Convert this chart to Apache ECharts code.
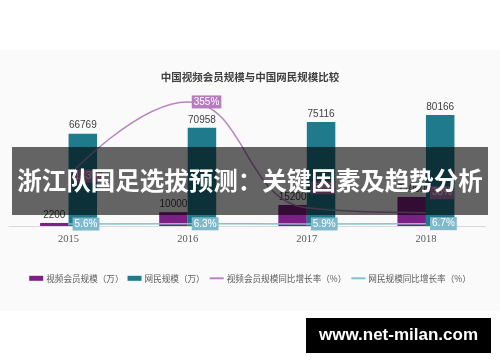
<!DOCTYPE html>
<html><head><meta charset="utf-8">
<script src="https://cdn.jsdelivr.net/npm/echarts@6/dist/echarts.min.js"></script>
<style>html,body{margin:0;padding:0;background:#fff}#c{width:500px;height:362px}</style>
</head><body><div id="c"></div>
<script>
const years = ['2015', '2016', '2017', '2018'];
const memberScale = [2200, 10000, 15200, 21000];
const netScale = [66769, 70958, 75116, 80166];
const memberGrowth = [143, 355, 52, 38];
const netGrowth = [5.6, 6.3, 5.9, 6.7];
const seriesNames = ['视频会员规模（万）', '网民规模（万）', '视频会员规模同比增长率（%）', '网民规模同比增长率（%）'];
const chartTitle = '中国视频会员规模与中国网民规模比较';
const bannerText = '浙江队国足选拔预测：关键因素及趋势分析';
const siteText = 'www.net-milan.com';

const FONT = '"Noto Sans CJK SC", "Liberation Sans", sans-serif';
const memberGrowthData = memberGrowth.map((v, i) => i >= 2 ? { value: v, label: { offset: [0, -20] } } : v);
const chart = echarts.init(document.getElementById('c'));
chart.setOption({
  animation: false,
  textStyle: { fontFamily: FONT },
  title: {
    text: chartTitle, left: 'center', top: 67,
    textStyle: { fontSize: 10.5, fontWeight: 'bold', color: '#404040', fontFamily: FONT }
  },
  legend: {
    data: [
      { name: seriesNames[0], icon: 'rect' },
      { name: seriesNames[1], icon: 'rect' },
      { name: seriesNames[2], itemStyle: { opacity: 0 } },
      { name: seriesNames[3], itemStyle: { opacity: 0 } }
    ],
    left: 'center', top: 269,
    itemWidth: 14, itemHeight: 5, itemGap: 4,
    textStyle: { fontSize: 8.6, color: '#595959', fontFamily: FONT, padding: [0, 0, 0, -2] }
  },
  grid: { left: 9, right: 14.5, top: 60, bottom: 136 },
  xAxis: {
    type: 'category', data: years,
    axisLine: { lineStyle: { color: '#d9d9d9', width: 1 } },
    axisTick: { show: false },
    axisLabel: { color: '#595959', fontSize: 10.5, margin: 8, fontFamily: '"Liberation Serif", serif' }
  },
  yAxis: [
    { type: 'value', min: 0, max: 120000, show: false, splitLine: { show: false } },
    { type: 'value', min: 0, max: 475, show: false, splitLine: { show: false } }
  ],
  series: [
    {
      name: seriesNames[0], type: 'bar', data: memberScale, barWidth: 28.5, barGap: '0%',
      itemStyle: { color: '#7e1f86' },
      label: { show: true, position: 'top', distance: 3, color: '#404040', fontSize: 10, fontFamily: '"Liberation Sans", sans-serif' }
    },
    {
      name: seriesNames[1], type: 'bar', data: netScale, barWidth: 28.5,
      itemStyle: { color: '#1f7b8c' },
      label: { show: true, position: 'top', distance: 3, color: '#404040', fontSize: 10, fontFamily: '"Liberation Sans", sans-serif' }
    },
    {
      name: seriesNames[2], type: 'line', yAxisIndex: 1, data: memberGrowthData, smooth: 0.45,
      symbol: 'circle', symbolSize: 0.1, showSymbol: true,
      lineStyle: { color: '#b784bf', width: 1.5 }, itemStyle: { color: '#b784bf' },
      label: { show: true, position: 'right', distance: 4, formatter: '{c}%', color: '#fff', fontSize: 10,
        backgroundColor: '#b77bbf', padding: [2, 2, 1, 2], fontFamily: '"Liberation Sans", sans-serif' }
    },
    {
      name: seriesNames[3], type: 'line', yAxisIndex: 1, data: netGrowth, smooth: true,
      symbol: 'circle', symbolSize: 0.1, showSymbol: true,
      lineStyle: { color: '#7fc3cc', width: 1.5 }, itemStyle: { color: '#7fc3cc' },
      label: { show: true, position: 'right', distance: 4, formatter: '{c}%', color: '#fff', fontSize: 10,
        backgroundColor: '#80b9cb', padding: [2, 2, 1, 2], fontFamily: '"Liberation Sans", sans-serif' }
    }
  ],
  graphic: [
    { type: 'rect', z: -10, silent: true, shape: { x: 0, y: 50, width: 500, height: 261 }, style: { fill: '#fbfafb' } },
    { type: 'rect', z: 100, silent: true, shape: { x: 12, y: 147, width: 476, height: 68 }, style: { fill: 'rgba(0,0,0,0.6)' } },
    { type: 'text', z: 101, silent: true, left: 'center', top: 168,
      style: { text: bannerText, fill: '#fff', font: 'bold 24.5px "Noto Sans CJK SC", sans-serif' } },
    { type: 'rect', z: 100, silent: true, shape: { x: 306, y: 318, width: 185, height: 35 }, style: { fill: '#000' } },
    { type: 'text', z: 101, silent: true, x: 398.5, y: 335.5,
      style: { text: siteText, fill: '#fff', font: 'bold 17px "Liberation Sans", sans-serif', align: 'center', verticalAlign: 'middle' } }
  ]
});
</script></body></html>
